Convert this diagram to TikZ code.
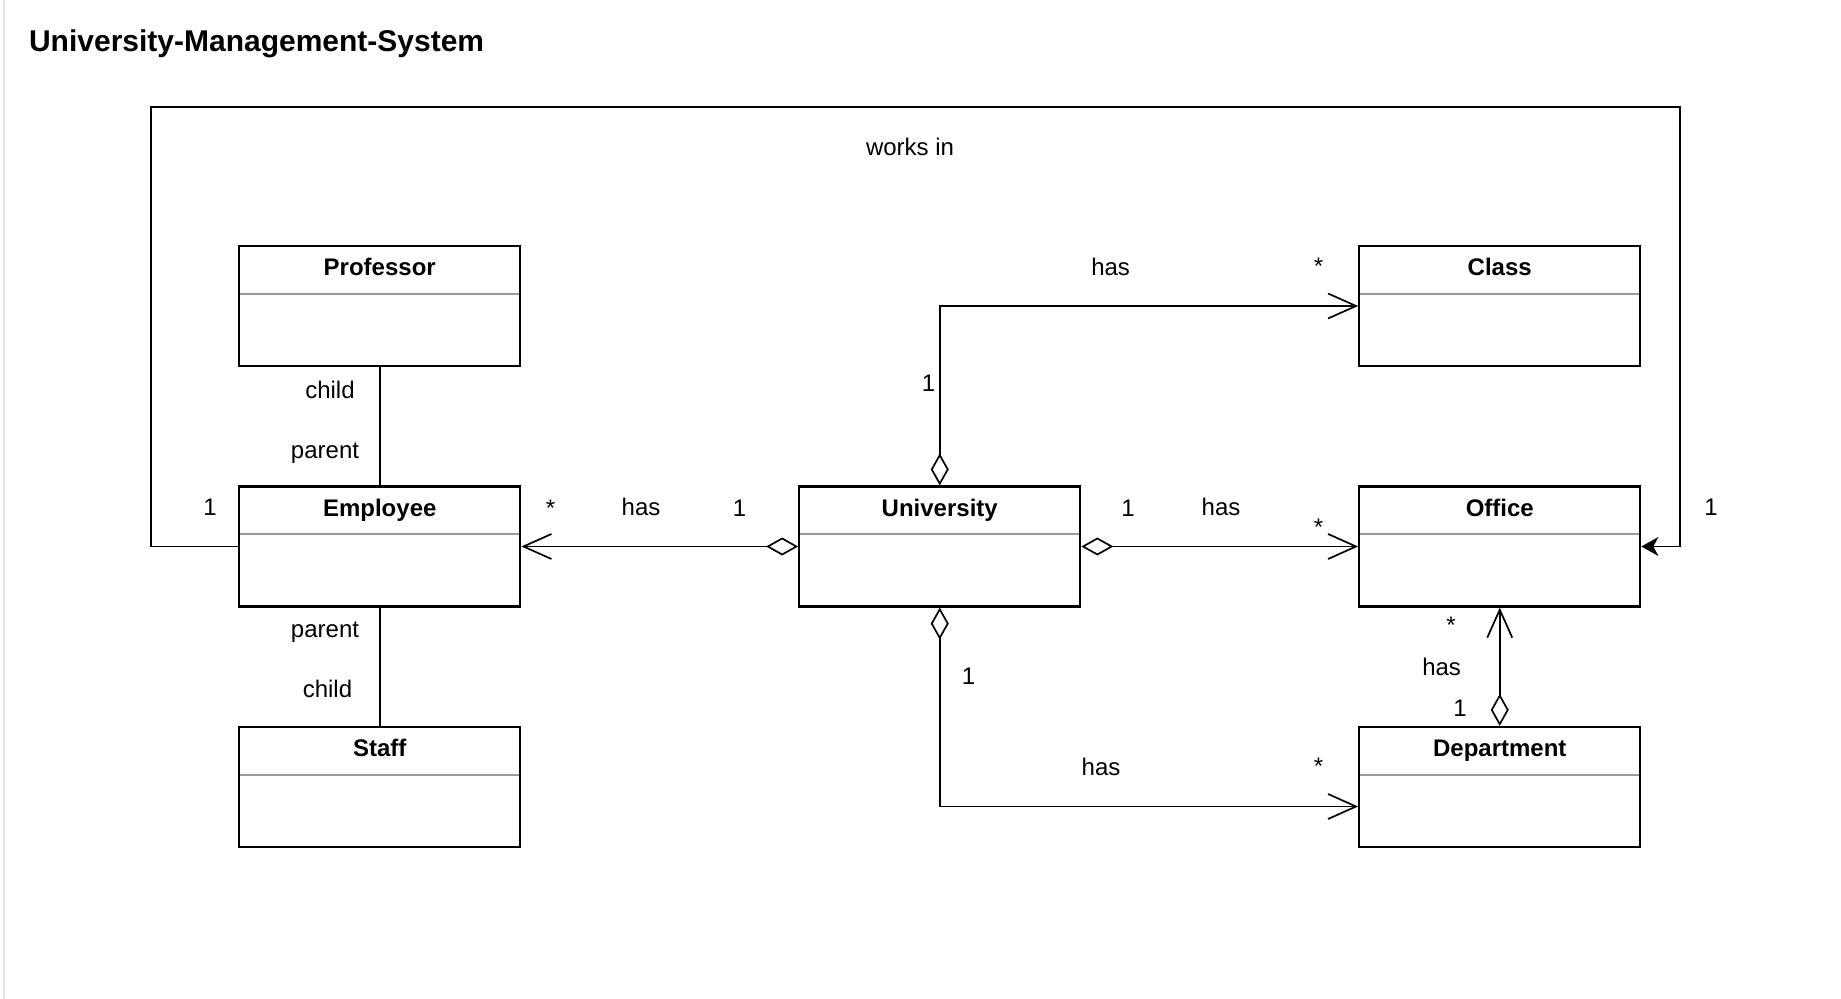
\documentclass[tikz,border=0pt]{standalone}
\usepackage{fontspec}
\setmainfont{Liberation Sans}
\usetikzlibrary{arrows.meta}

\begin{document}
\begin{tikzpicture}
    [x=0.5pt,y=-0.5pt,
    cls/.style={rectangle,draw=black,line width=1.1pt,
      inner sep=0pt,minimum width=140.5pt,text height=14.9pt,text depth=45.1pt,
      font=\fontsize{12}{14}\selectfont\bfseries,
      path picture={\draw[black!40,line width=1pt]
        ([yshift=-24pt]path picture bounding box.north west) --
        ([yshift=-24pt]path picture bounding box.north east);}},
    lbl/.style={inner sep=0pt,text height=8.6pt,text depth=0pt,
      font=\fontsize{12}{14}\selectfont},
    link/.style={draw=black,line width=0.85pt},
    agg/.style={link,{Diamond[open,length=16pt,width=9pt]}-{Straight Barb[length=14pt,width=12.5pt]}},
    worksin/.style={link,-{Stealth[length=8.5pt,width=9.5pt,inset=2.5pt]}}]

    \useasboundingbox (0,0) rectangle (1841,999);
    \draw[black!10,line width=1pt] (3.5,0) -- (3.5,999);

    \node (title) at (22,43.5) [anchor=west,font=\fontsize{15}{18}\selectfont\bfseries]
      {University-Management-System};

    \node (professor)  at ( 379.75,306)   [cls] {Professor};

    \node (employee)   at ( 379.75,546.5) [cls] {Employee};

    \node (staff)      at ( 379.75,787)   [cls] {Staff};

    \node (university) at ( 939.75,546.5) [cls] {University};

    \node (class)      at (1499.75,306)   [cls] {Class};

    \node (office)     at (1499.75,546.5) [cls] {Office};

    \node (department) at (1499.75,787)   [cls] {Department};

    \draw[link] (professor) -- (employee);
    \draw[link] (employee) -- (staff);
    \draw[agg] (university) -- (employee);
    \draw[agg] (university) -- (office);
    \draw[agg] (university.north) |- (class.west);
    \draw[agg] (university.south) |- ([yshift=-9.75pt]department.west);
    \draw[agg] (department) -- (office);
    \draw[worksin] (employee.west) -- ++(-87,0) |- (1680,107) |- (office.east);

    \node (works in)     at ( 910,147)   [lbl] {works in};
    \node (emp one)      at ( 210,507)   [lbl] {1};
    \node (off one)      at (1711,507)   [lbl] {1};

    \node (prof child)   at ( 330,390)   [lbl] {child};
    \node (prof parent)  at ( 325,450)   [lbl] {parent};
    \node (staff parent) at ( 325,629)   [lbl] {parent};
    \node (staff child)  at ( 327.5,689) [lbl] {child};

    \node (emp star)     at ( 550.6,508) [lbl] {*};
    \node (emp has)      at ( 641,507)   [lbl] {has};
    \node (emp uni one)  at ( 739.6,508) [lbl] {1};

    \node (cls one)      at ( 928.6,383) [lbl] {1};
    \node (cls has)      at (1110.6,266.5) [lbl] {has};
    \node (cls star)     at (1318.5,266) [lbl] {*};

    \node (off uni one)  at (1128,508)   [lbl] {1};
    \node (off has)      at (1221,507)   [lbl] {has};
    \node (off star)     at (1318.5,527) [lbl] {*};

    \node (dep one)      at ( 968.5,676) [lbl] {1};
    \node (dep has)      at (1101,766.6) [lbl] {has};
    \node (dep star)     at (1318.5,766) [lbl] {*};

    \node (do star)      at (1451,625)   [lbl] {*};
    \node (do has)       at (1441.6,666.8) [lbl] {has};
    \node (do one)       at (1460,708)   [lbl] {1};

  \end{tikzpicture}
\end{document}
